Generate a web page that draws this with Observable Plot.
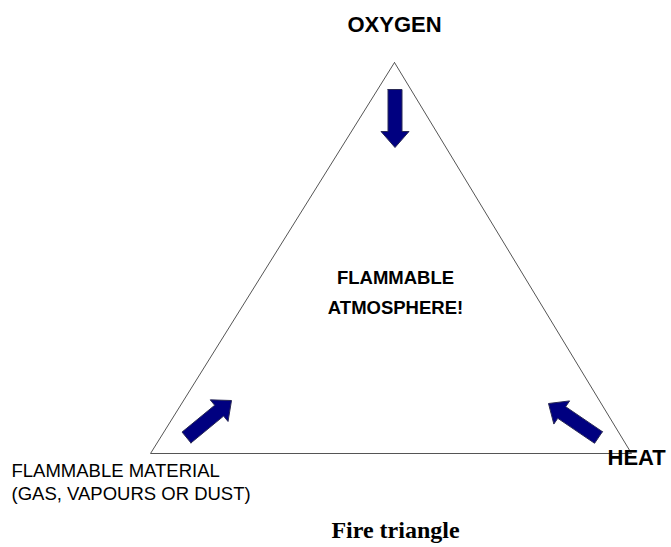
<!DOCTYPE html>
<html>
<head>
<meta charset="utf-8">
<script src="https://cdn.jsdelivr.net/npm/d3@7"></script>
<script src="https://cdn.jsdelivr.net/npm/@observablehq/plot@0.6"></script>
<style>
  html, body { margin: 0; padding: 0; background: #fff; }
  #chart svg { display: block; }
</style>
</head>
<body>
<div id="chart"></div>
<script>
// Triangle vertices (diagram coordinates, y downward)
const vertexNames = ["OXYGEN", "HEAT", "FUEL"];
const vertexX = [394, 631, 150];
const vertexY = [62, 453, 453];

// Arrows: tail -> tip
const arrowNames = ["oxygen", "fuel", "heat"];
const arrowTailX = [394.5, 186, 598];
const arrowTailY = [89, 437, 437];
const arrowTipX = [394.5, 231, 548];
const arrowTipY = [147, 400, 403];

// Labels
const labelText = ["OXYGEN", "FLAMMABLE", "ATMOSPHERE!", "HEAT", "FLAMMABLE MATERIAL", "(GAS, VAPOURS OR DUST)", "Fire triangle"];
const labelX = [394, 395, 395, 607, 11, 11, 395];
const labelY = [31, 283, 313, 464, 476, 499, 537];
const labelSize = [22, 18.5, 18.5, 22, 18.5, 18.5, 24];
const labelWeight = ["bold", "bold", "bold", "bold", "normal", "normal", "bold"];
const labelAnchor = ["middle", "middle", "middle", "start", "start", "start", "middle"];
const labelFamily = ["Liberation Sans, Arial, sans-serif", "Liberation Sans, Arial, sans-serif", "Liberation Sans, Arial, sans-serif", "Liberation Sans, Arial, sans-serif", "Liberation Sans, Arial, sans-serif", "Liberation Sans, Arial, sans-serif", "Liberation Serif, Times New Roman, serif"];

// Build tables
const triangle = [0, 1, 2, 0].map(i => ({x: vertexX[i], y: vertexY[i]}));

const shaftHalf = 7, headHalf = 14, headLen = 16;
const arrowPts = [];
arrowNames.forEach((name, k) => {
  const tx = arrowTailX[k], ty = arrowTailY[k], px = arrowTipX[k], py = arrowTipY[k];
  const L = Math.hypot(px - tx, py - ty);
  const ux = (px - tx) / L, uy = (py - ty) / L;
  const nx = -uy, ny = ux;
  const hx = px - ux * headLen, hy = py - uy * headLen;
  const pts = [
    [tx + nx * shaftHalf, ty + ny * shaftHalf],
    [hx + nx * shaftHalf, hy + ny * shaftHalf],
    [hx + nx * headHalf, hy + ny * headHalf],
    [px, py],
    [hx - nx * headHalf, hy - ny * headHalf],
    [hx - nx * shaftHalf, hy - ny * shaftHalf],
    [tx - nx * shaftHalf, ty - ny * shaftHalf],
    [tx + nx * shaftHalf, ty + ny * shaftHalf]
  ];
  pts.forEach(([x, y]) => arrowPts.push({name, x, y}));
});

const labels = labelText.map((t, i) => ({
  text: t, x: labelX[i], y: labelY[i], size: labelSize[i],
  weight: labelWeight[i], anchor: labelAnchor[i], family: labelFamily[i]
}));

const textMarks = labels.map(d => Plot.text([d], {
  x: "x", y: "y", text: "text",
  fontSize: d.size, fontWeight: d.weight, fontFamily: d.family,
  textAnchor: d.anchor, lineAnchor: "bottom", fill: "#000"
}));

const chart = Plot.plot({
  width: 671,
  height: 547,
  margin: 0,
  x: {domain: [0, 671], range: [0, 671], axis: null},
  y: {domain: [0, 547], range: [0, 547], axis: null},
  marks: [
    Plot.line(triangle, {x: "x", y: "y", stroke: "#555", strokeWidth: 1}),
    Plot.line(arrowPts, {x: "x", y: "y", z: "name", fill: "#000080", stroke: "#2a2a55", strokeWidth: 1, strokeLinejoin: "miter"}),
    ...textMarks
  ]
});
document.getElementById("chart").appendChild(chart);
</script>
</body>
</html>
